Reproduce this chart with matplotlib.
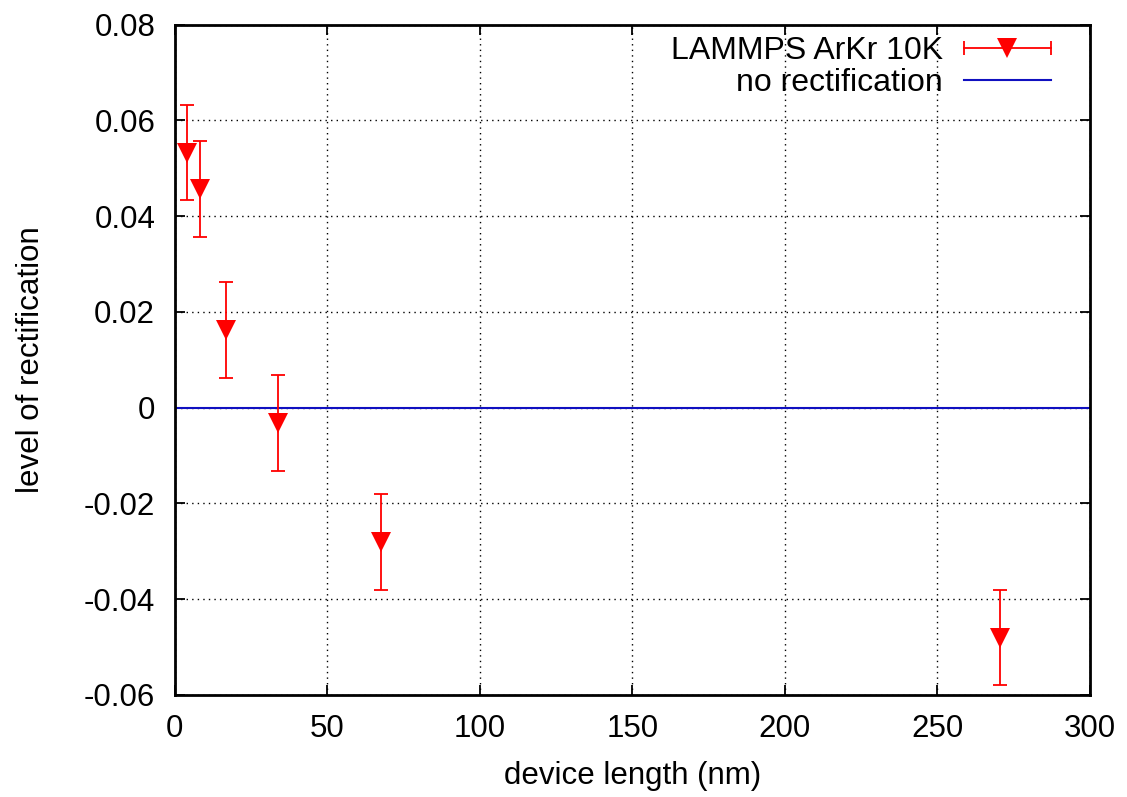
import matplotlib
matplotlib.use("Agg")
import matplotlib.pyplot as plt
from matplotlib.lines import Line2D
from matplotlib.legend_handler import HandlerLine2D, HandlerTuple

# data
length_nm = [4.2, 8.4, 16.9, 33.8, 67.6, 270.4]
rectification = [0.0533, 0.0457, 0.0162, -0.0032, -0.0280, -0.0480]
rect_err = [0.010, 0.010, 0.010, 0.010, 0.010, 0.010]
x_ticks = [0, 50, 100, 150, 200, 250, 300]
y_ticks = [-0.06, -0.04, -0.02, 0, 0.02, 0.04, 0.06, 0.08]
y_tick_labels = ["-0.06", "-0.04", "-0.02", "0", "0.02", "0.04", "0.06", "0.08"]

plt.rcParams['font.family'] = ['Liberation Sans', 'DejaVu Sans']
fs = 22.5

fig = plt.figure(figsize=(11.27, 7.97), dpi=100)
ax = fig.add_axes([0.155, 0.128, 0.812, 0.841])

ax.grid(True, color='black', linestyle=(0, (1, 3)), linewidth=1.0)
ax.set_axisbelow(True)

red = '#ff0000'
ax.errorbar(length_nm, rectification, yerr=rect_err, fmt='none',
            ecolor=red, elinewidth=1.3, capsize=5, capthick=1.3, zorder=3)
ax.plot(length_nm, rectification, linestyle='none', marker='v',
        markersize=15, color=red, markeredgewidth=0, zorder=4)
ax.axhline(0, color='#1010c0', linewidth=1.5, zorder=2)

ax.set_xlim(0, 300)
ax.set_ylim(-0.06, 0.08)
ax.set_xticks(x_ticks)
ax.set_yticks(y_ticks)
ax.set_yticklabels(y_tick_labels)
ax.tick_params(direction='in', length=7, width=1.3, top=True, right=True,
               labelsize=fs, pad=14)
for s in ax.spines.values():
    s.set_linewidth(2)

ax.set_xlabel('device length (nm)', fontsize=fs, labelpad=12)
ax.set_ylabel('level of rectification', fontsize=fs, labelpad=27)

# gnuplot style legend: horizontal error bar with caps, marker in the middle
err_line = Line2D([], [], color=red, linewidth=1.3, marker='|', markersize=10,
                  markeredgewidth=1.3)
tri = Line2D([], [], color=red, linestyle='none', marker='v', markersize=15,
             markeredgewidth=0)
zero_proxy = Line2D([], [], color='#1010c0', linewidth=1.5)
leg = ax.legend([(err_line, tri), zero_proxy],
                ['LAMMPS ArKr 10K', 'no rectification'],
                handler_map={tuple: HandlerTuple(ndivide=1, pad=0),
                             err_line: HandlerLine2D(numpoints=2, marker_pad=0),
                             tri: HandlerLine2D(numpoints=1)},
                loc='upper right', bbox_to_anchor=(0.958, 0.983),
                frameon=False, markerfirst=False, borderpad=0,
                borderaxespad=0, fontsize=23, handlelength=2.75,
                handletextpad=0.65, labelspacing=0.07)
for t in leg.get_texts():
    t.set_ha('right')

fig.savefig('out.png', dpi=100)
